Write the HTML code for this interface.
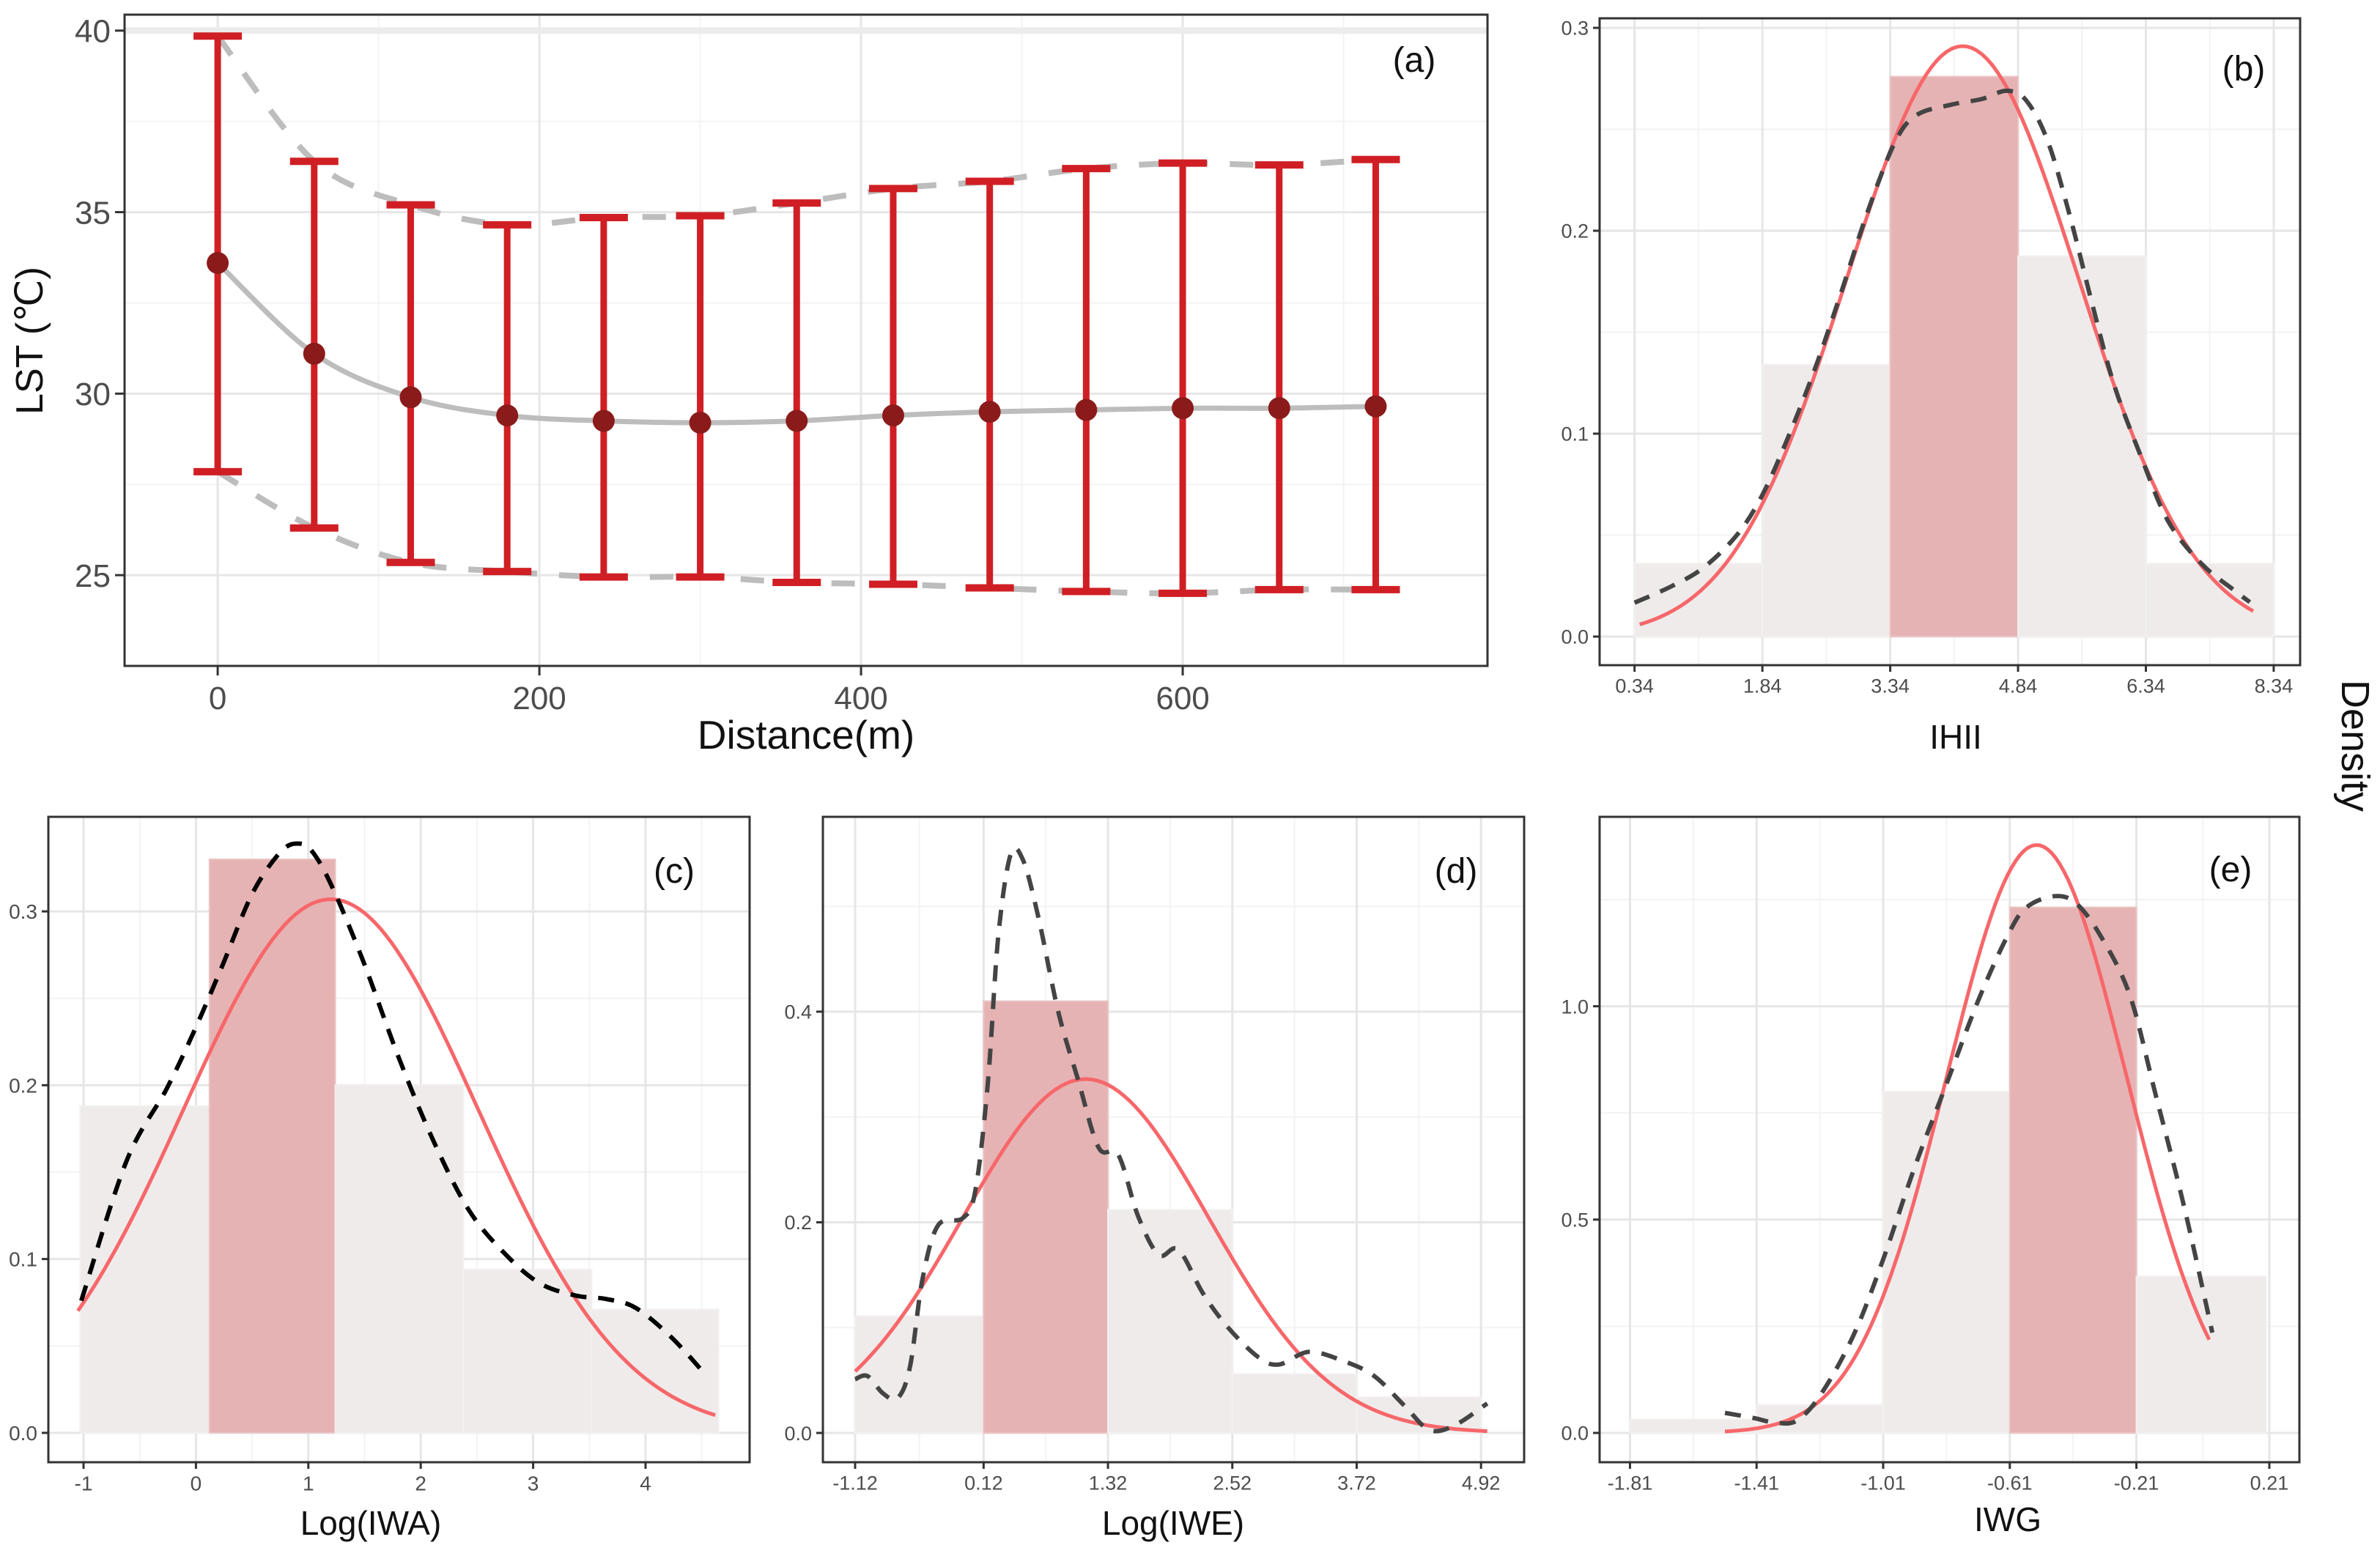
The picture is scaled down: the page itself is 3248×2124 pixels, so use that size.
<!DOCTYPE html>
<html><head><meta charset="utf-8"><style>
html,body{margin:0;padding:0;background:#fff;}
svg{display:block;font-family:"Liberation Sans",Arial,sans-serif;}
</style></head><body>
<svg id="fig" width="3248" height="2124" viewBox="0 0 3248 2124">
<rect x="0" y="0" width="3248" height="2124" fill="#fff"/>
</svg>
<script>
// ---------- Panel (a) data ----------
const distA = [0,60,120,180,240,300,360,420,480,540,600,660,720];
const meanA = [33.6,31.1,29.9,29.4,29.25,29.2,29.25,29.4,29.5,29.55,29.6,29.6,29.65];
const upperA = [39.85,36.4,35.2,34.65,34.85,34.9,35.25,35.65,35.85,36.2,36.35,36.3,36.45];
const lowerA = [27.85,26.3,25.35,25.1,24.95,24.95,24.8,24.75,24.65,24.55,24.5,24.6,24.6];
const xTicksA = [0,200,400,600];
const yTicksA = [25,30,35,40];

// ---------- Panel (b) data ----------
const edgesB = [0.34,1.84,3.34,4.84,6.34,7.84];
const heightsB = [0.036,0.134,0.276,0.1875,0.036];
const normB = [4.19,1.36,0.291]; // mean, sd, peak
const normRangeB = [0.40,7.60];
const kdeXB = [0.34,0.77,1.15,1.54,1.83,2.12,2.44,2.76,3.08,3.40,3.65,4.04,4.42,4.71,4.94,5.19,5.45,5.71,5.96,6.28,6.60,6.99,7.37,7.56];
const kdeYB = [0.0167,0.0247,0.034,0.050,0.069,0.096,0.130,0.169,0.21,0.244,0.257,0.262,0.265,0.269,0.264,0.244,0.207,0.164,0.125,0.089,0.057,0.036,0.023,0.017];
const xTickPosB = [0.34,1.84,3.34,4.84,6.34,7.84];
const xTickLabB = ['0.34','1.84','3.34','4.84','6.34','8.34'];
const yTicksB = [0,0.1,0.2,0.3];
const yTickLabB = ['0.0','0.1','0.2','0.3'];

// ---------- Panel (c) data ----------
const edgesC = [-1.03,0.12,1.24,2.38,3.52,4.65];
const heightsC = [0.188,0.33,0.2,0.094,0.071];
const normC = [1.2,1.31,0.307];
const normRangeC = [-1.05,4.62];
const kdeXC = [-1.02,-0.62,-0.26,-0.01,0.23,0.50,0.75,0.91,1.04,1.22,1.49,1.81,2.12,2.43,2.75,3.06,3.38,3.65,3.91,4.23,4.54];
const kdeYC = [0.076,0.156,0.198,0.232,0.268,0.31,0.334,0.339,0.334,0.313,0.271,0.215,0.167,0.128,0.103,0.086,0.079,0.077,0.072,0.055,0.033];
const xTickPosC = [-1,0,1,2,3,4];
const xTickLabC = ['-1','0','1','2','3','4'];
const yTicksC = [0,0.1,0.2,0.3];
const yTickLabC = ['0.0','0.1','0.2','0.3'];

// ---------- Panel (d) data ----------
const edgesD = [-1.12,0.12,1.32,2.52,3.72,4.92];
const heightsD = [0.111,0.41,0.212,0.056,0.034];
const normD = [1.105,1.19,0.336];
const normRangeD = [-1.12,4.98];
const kdeXD = [-1.12,-1.0,-0.85,-0.71,-0.59,-0.47,-0.32,-0.08,0.04,0.16,0.26,0.38,0.50,0.65,0.84,1.03,1.23,1.42,1.61,1.81,2.0,2.24,2.48,2.77,2.97,3.26,3.6,3.89,4.18,4.42,4.66,4.98];
const kdeYD = [0.051,0.054,0.0375,0.033,0.063,0.146,0.197,0.204,0.23,0.331,0.47,0.549,0.544,0.489,0.40,0.336,0.271,0.264,0.206,0.169,0.174,0.132,0.10,0.072,0.065,0.077,0.068,0.054,0.026,0.003,0.007,0.028];
const xTickPosD = [-1.12,0.12,1.32,2.52,3.72,4.92];
const xTickLabD = ['-1.12','0.12','1.32','2.52','3.72','4.92'];
const yTicksD = [0,0.2,0.4];
const yTickLabD = ['0.0','0.2','0.4'];

// ---------- Panel (e) data ----------
const edgesE = [-1.81,-1.41,-1.01,-0.61,-0.21,0.2];
const heightsE = [0.032,0.066,0.80,1.232,0.367];
const normE = [-0.525,0.284,1.378];
const normRangeE = [-1.51,0.02];
const kdeXE = [-1.51,-1.42,-1.35,-1.28,-1.20,-1.10,-1.01,-0.91,-0.81,-0.71,-0.62,-0.56,-0.47,-0.40,-0.32,-0.23,-0.15,-0.06,0.03];
const kdeYE = [0.047,0.035,0.024,0.030,0.098,0.235,0.407,0.624,0.818,1.013,1.161,1.23,1.258,1.241,1.161,1.024,0.795,0.533,0.235];
const xTickPosE = [-1.81,-1.41,-1.01,-0.61,-0.21,0.21];
const xTickLabE = ['-1.81','-1.41','-1.01','-0.61','-0.21','0.21'];
const yTicksE = [0,0.5,1.0];
const yTickLabE = ['0.0','0.5','1.0'];

const svg = document.getElementById('fig');
const NS = svg.namespaceURI;
function el(tag, parent){ const e = document.createElementNS(NS, tag); parent.appendChild(e); return e; }
function set(e, o){ for (const k in o) e.setAttribute(k, o[k]); }
function scale(d0,d1,r0,r1){ return v => r0 + (v-d0)/(d1-d0)*(r1-r0); }

function frame(cfg){
  const g = el('g', svg);
  
  
  const X = scale(cfg.xd[0],cfg.xd[1],cfg.L,cfg.R);
  const Y = scale(cfg.yd[0],cfg.yd[1],cfg.B,cfg.T);
  // minor grid
  cfg.xMinor.forEach(v=>{ const l=el('line',g); set(l,{x1:X(v),x2:X(v),y1:cfg.T,y2:cfg.B,stroke:'#f3f3f3','stroke-width':2});
    
     });
  cfg.yMinor.forEach(v=>{ const l=el('line',g); set(l,{x1:cfg.L,x2:cfg.R,y1:Y(v),y2:Y(v),stroke:'#f3f3f3','stroke-width':2});
    
     });
  cfg.xTicks.forEach(v=>{ const l=el('line',g); set(l,{x1:X(v),x2:X(v),y1:cfg.T,y2:cfg.B,stroke:'#e6e6e6','stroke-width':3});
    
     });
  cfg.yTicks.forEach(v=>{ const l=el('line',g); set(l,{x1:cfg.L,x2:cfg.R,y1:Y(v),y2:Y(v),stroke:'#e6e6e6','stroke-width':3});
    
     });
  return {g,X,Y};
}
function axes(cfg,g,X,Y){
  const b = el('rect',g); set(b,{x:cfg.L,y:cfg.T,width:cfg.R-cfg.L,height:cfg.B-cfg.T,fill:'none',stroke:'#333','stroke-width':3});
  
  
  cfg.xTicks.forEach((v,i)=>{
    const t=el('line',g); set(t,{x1:X(v),x2:X(v),y1:cfg.B,y2:cfg.B+cfg.tl,stroke:'#333','stroke-width':3});
    
    
    const tx=el('text',g); set(tx,{x:X(v),y:cfg.B+cfg.tl+cfg.fs*1.05,'text-anchor':'middle','font-size':cfg.fs,fill:'#4d4d4d'});
    tx.textContent = cfg.xLab[i];
    
    
  });
  cfg.yTicks.forEach((v,i)=>{
    const t=el('line',g); set(t,{x1:cfg.L-cfg.tl,x2:cfg.L,y1:Y(v),y2:Y(v),stroke:'#333','stroke-width':3});
    
    
    const tx=el('text',g); set(tx,{x:cfg.L-cfg.tl-6,y:Y(v)+cfg.fs*0.36,'text-anchor':'end','font-size':cfg.fs,fill:'#4d4d4d'});
    tx.textContent = cfg.yLab[i];
    
    
  });
  const xt=el('text',g); set(xt,{x:cfg.xtX,y:cfg.xtY,'text-anchor':'middle','font-size':cfg.xtFs,fill:'#111'});
  xt.textContent = cfg.xTitle;
  
  
  const pl=el('text',g); set(pl,{x:cfg.plX,y:cfg.plY,'text-anchor':'middle','font-size':48,fill:'#111'});
  pl.textContent = cfg.panelLabel;
  
  
}
function pathD(xs,ys,X,Y){ return xs.map((x,i)=>(i?'L':'M')+X(x).toFixed(1)+','+Y(ys[i]).toFixed(1)).join(''); }
function smoothD(xs,ys,X,Y){
  const p = xs.map((x,i)=>[X(x),Y(ys[i])]);
  let d = 'M'+p[0][0]+','+p[0][1];
  for(let i=0;i<p.length-1;i++){
    const p0=p[Math.max(0,i-1)],p1=p[i],p2=p[i+1],p3=p[Math.min(p.length-1,i+2)];
    const c1=[p1[0]+(p2[0]-p0[0])/6,p1[1]+(p2[1]-p0[1])/6], c2=[p2[0]-(p3[0]-p1[0])/6,p2[1]-(p3[1]-p1[1])/6];
    d+='C'+c1[0].toFixed(1)+','+c1[1].toFixed(1)+' '+c2[0].toFixed(1)+','+c2[1].toFixed(1)+' '+p2[0].toFixed(1)+','+p2[1].toFixed(1);
  }
  return d;
}
function histPanel(cfg, edges, heights, norm, nr, kx, ky, kdeColor){
  const {g,X,Y} = frame(cfg);
  let best = 0; heights.forEach((h,i)=>{ if(h>heights[best]) best=i; });
  heights.forEach((h,i)=>{
    const r=el('rect',g); set(r,{x:X(edges[i]),y:Y(h),width:X(edges[i+1])-X(edges[i]),height:Y(0)-Y(h),
      fill: i===best ? '#e6b3b4' : '#efebeb', stroke: i===best ? '#ebc4c5' : '#f3f0f0','stroke-width':2});
    
    
  });
  const nx=[], ny=[];
  for(let k=0;k<=120;k++){ const x = nr[0]+(nr[1]-nr[0])*k/120; nx.push(x); ny.push(norm[2]*Math.exp(-0.5*Math.pow((x-norm[0])/norm[1],2))); }
  const n=el('path',g); set(n,{d:pathD(nx,ny,X,Y),fill:'none',stroke:'#f7676a','stroke-width':5});
  
  
  const k=el('path',g); set(k,{d:smoothD(kx,ky,X,Y),fill:'none',stroke:kdeColor,'stroke-width':6,'stroke-dasharray':'22 16'});
  
  
  axes(cfg,g,X,Y);
}
function mids(a){ const r=[]; for(let i=0;i<a.length-1;i++) r.push((a[i]+a[i+1])/2); return r; }

// ---------- Panel (a) ----------
(function(){
  const cfg = {name:'panel-a-lst-distance',L:170,R:2030,T:20,B:909,xd:[-57.9,789.5],yd:[22.50,40.44],
    xTicks:xTicksA,yTicks:yTicksA,xMinor:[100,300,500,700],yMinor:[27.5,32.5,37.5],
    xLab:xTicksA.map(String),yLab:yTicksA.map(String),tl:13,fs:44,
    xTitle:'Distance(m)',xtX:1100,xtY:1022,xtFs:55,panelLabel:'(a)',plX:1930,plY:98};
  const {g,X,Y} = frame(cfg);
  const band=el('line',g); set(band,{x1:cfg.L,x2:cfg.R,y1:Y(40),y2:Y(40),stroke:'#ececec','stroke-width':9});
  
  
  const up=el('path',g); set(up,{d:smoothD(distA,upperA,X,Y),fill:'none',stroke:'#bdbdbd','stroke-width':8,'stroke-dasharray':'32 30'});
  
  
  const lo=el('path',g); set(lo,{d:smoothD(distA,lowerA,X,Y),fill:'none',stroke:'#bdbdbd','stroke-width':8,'stroke-dasharray':'32 30'});
  
  
  const mn=el('path',g); set(mn,{d:smoothD(distA,meanA,X,Y),fill:'none',stroke:'#bdbdbd','stroke-width':7});
  
  
  distA.forEach((d,i)=>{
    const eb=el('g',g);
    
    
    const v=el('line',eb); set(v,{x1:X(d),x2:X(d),y1:Y(upperA[i]),y2:Y(lowerA[i]),stroke:'#d01f24','stroke-width':9});
    
    
    [upperA[i],lowerA[i]].forEach(c=>{
      const cap=el('line',eb); set(cap,{x1:X(d)-33,x2:X(d)+33,y1:Y(c),y2:Y(c),stroke:'#d01f24','stroke-width':10});
      
      
    });
    const p=el('circle',eb); set(p,{cx:X(d),cy:Y(meanA[i]),r:15,fill:'#8b1a1a'});
    
    
  });
  axes(cfg,g,X,Y);
  const yt=el('text',g); set(yt,{x:0,y:0,transform:'translate(58,465) rotate(-90)','text-anchor':'middle','font-size':52,fill:'#111'});
  yt.textContent='LST (℃)';
  
  
})();

histPanel({name:'panel-b-ihii',L:2183,R:3139,T:25,B:908,xd:[-0.07,8.15],yd:[-0.0141,0.3047],
  xTicks:xTickPosB,yTicks:yTicksB,xMinor:mids(xTickPosB),yMinor:[0.05,0.15,0.25],
  xLab:xTickLabB,yLab:yTickLabB,tl:9,fs:27,xTitle:'IHII',xtX:2669,xtY:1022,xtFs:46,panelLabel:'(b)',plX:3062,plY:110},
  edgesB,heightsB,normB,normRangeB,kdeXB,kdeYB,'#444');

histPanel({name:'panel-c-log-iwa',L:66,R:1023,T:1115,B:1996,xd:[-1.313,4.926],yd:[-0.0169,0.3544],
  xTicks:xTickPosC,yTicks:yTicksC,xMinor:[-0.5,0.5,1.5,2.5,3.5,4.5],yMinor:[0.05,0.15,0.25],
  xLab:xTickLabC,yLab:yTickLabC,tl:9,fs:28,xTitle:'Log(IWA)',xtX:506,xtY:2095,xtFs:46,panelLabel:'(c)',plX:920,plY:1205},
  edgesC,heightsC,normC,normRangeC,kdeXC,kdeYC,'#000');

histPanel({name:'panel-d-log-iwe',L:1123,R:2080,T:1115,B:1996,xd:[-1.431,5.336],yd:[-0.0278,0.585],
  xTicks:xTickPosD,yTicks:yTicksD,xMinor:mids(xTickPosD),yMinor:[0.1,0.3,0.5],
  xLab:xTickLabD,yLab:yTickLabD,tl:9,fs:27,xTitle:'Log(IWE)',xtX:1601,xtY:2095,xtFs:46,panelLabel:'(d)',plX:1987,plY:1205},
  edgesD,heightsD,normD,normRangeD,kdeXD,kdeYD,'#444');

histPanel({name:'panel-e-iwg',L:2183,R:3138,T:1115,B:1996,xd:[-1.906,0.305],yd:[-0.0687,1.444],
  xTicks:xTickPosE,yTicks:yTicksE,xMinor:mids(xTickPosE),yMinor:[0.25,0.75,1.25],
  xLab:xTickLabE,yLab:yTickLabE,tl:9,fs:27,xTitle:'IWG',xtX:2740,xtY:2090,xtFs:46,panelLabel:'(e)',plX:3044,plY:1203},
  edgesE,heightsE,normE,normRangeE,kdeXE,kdeYE,'#444');

const dens = el('text', svg);
set(dens,{x:0,y:0,transform:'translate(3196,1018) rotate(90)','text-anchor':'middle','font-size':54,fill:'#111'});
dens.textContent = 'Density';


</script>
</body></html>
